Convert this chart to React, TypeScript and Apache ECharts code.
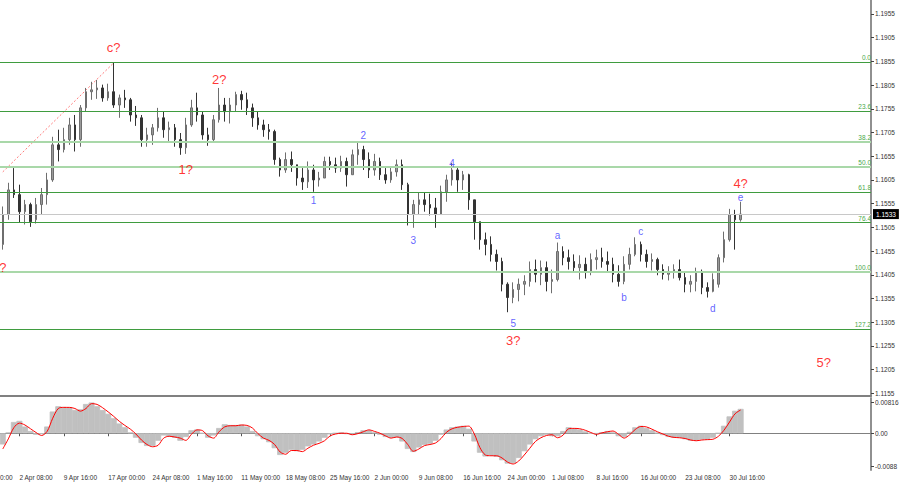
import { useEffect, useRef } from 'react';
import * as echarts from 'echarts';

// H4 bars grouped by 4 (16h per bar)
const opens = [
  1.1469, 1.1532, 1.1584, 1.1574, 1.1538, 1.1553, 1.1521, 1.1553, 1.1574, 1.1605,
  1.1679, 1.1669, 1.1690, 1.1721, 1.1690, 1.1757, 1.1791, 1.1795, 1.1799, 1.1778,
  1.1791, 1.1763, 1.1778, 1.1774, 1.1742, 1.1736, 1.1690, 1.1700, 1.1715, 1.1736,
  1.1711, 1.1715, 1.1690, 1.1673, 1.1721, 1.1757, 1.1742, 1.1700, 1.1690, 1.1732,
  1.1763, 1.1749, 1.1763, 1.1785, 1.1774, 1.1757, 1.1736, 1.1721, 1.1711, 1.1707,
  1.1648, 1.1626, 1.1648, 1.1637, 1.1609, 1.1601, 1.1626, 1.1605, 1.1609, 1.1644,
  1.1637, 1.1630, 1.1644, 1.1616, 1.1658, 1.1669, 1.1648, 1.1626, 1.1644, 1.1616,
  1.1605, 1.1622, 1.1637, 1.1595, 1.1532, 1.1553, 1.1563, 1.1553, 1.1546, 1.1532,
  1.1580, 1.1605, 1.1626, 1.1605, 1.1616, 1.1563, 1.1517, 1.1479, 1.1469, 1.1448,
  1.1433, 1.1385, 1.1357, 1.1374, 1.1385, 1.1391, 1.1416, 1.1406, 1.1420, 1.1391,
  1.1395, 1.1454, 1.1441, 1.1433, 1.1420, 1.1427, 1.1412, 1.1437, 1.1441, 1.1433,
  1.1427, 1.1406, 1.1391, 1.1427, 1.1448, 1.1469, 1.1448, 1.1433, 1.1437, 1.1416,
  1.1406, 1.1412, 1.1416, 1.1399, 1.1385, 1.1391, 1.1412, 1.1378, 1.1370, 1.1385,
  1.1441, 1.1479, 1.1532, 1.1521,
];
const closes = [
  1.1532, 1.1584, 1.1574, 1.1538, 1.1553, 1.1517, 1.1553, 1.1574, 1.1605, 1.1679,
  1.1669, 1.1690, 1.1721, 1.1690, 1.1757, 1.1791, 1.1795, 1.1799, 1.1778, 1.1791,
  1.1763, 1.1778, 1.1774, 1.1742, 1.1736, 1.1690, 1.1700, 1.1715, 1.1736, 1.1711,
  1.1715, 1.1690, 1.1673, 1.1721, 1.1757, 1.1742, 1.1700, 1.1690, 1.1732, 1.1763,
  1.1749, 1.1763, 1.1785, 1.1774, 1.1757, 1.1736, 1.1721, 1.1711, 1.1707, 1.1648,
  1.1626, 1.1648, 1.1637, 1.1609, 1.1601, 1.1626, 1.1605, 1.1609, 1.1644, 1.1637,
  1.1630, 1.1644, 1.1616, 1.1658, 1.1669, 1.1648, 1.1626, 1.1644, 1.1616, 1.1605,
  1.1622, 1.1637, 1.1595, 1.1532, 1.1553, 1.1563, 1.1553, 1.1546, 1.1532, 1.1580,
  1.1605, 1.1626, 1.1605, 1.1616, 1.1563, 1.1517, 1.1479, 1.1469, 1.1448, 1.1433,
  1.1385, 1.1357, 1.1374, 1.1385, 1.1391, 1.1416, 1.1406, 1.1420, 1.1391, 1.1395,
  1.1454, 1.1441, 1.1433, 1.1420, 1.1427, 1.1412, 1.1437, 1.1441, 1.1433, 1.1427,
  1.1406, 1.1391, 1.1427, 1.1448, 1.1469, 1.1448, 1.1433, 1.1437, 1.1416, 1.1406,
  1.1412, 1.1416, 1.1399, 1.1385, 1.1391, 1.1412, 1.1378, 1.1370, 1.1395, 1.1441,
  1.1479, 1.1532, 1.1521, 1.1533,
];
const lows = [
  1.1458, 1.1521, 1.1567, 1.1515, 1.1511, 1.1506, 1.1513, 1.1532, 1.1553, 1.1601,
  1.1644, 1.1663, 1.1679, 1.1665, 1.1675, 1.1749, 1.1774, 1.1776, 1.1770, 1.1772,
  1.1757, 1.1736, 1.1757, 1.1728, 1.1719, 1.1675, 1.1675, 1.1679, 1.1707, 1.1694,
  1.1683, 1.1675, 1.1658, 1.1660, 1.1717, 1.1728, 1.1690, 1.1677, 1.1686, 1.1726,
  1.1728, 1.1724, 1.1749, 1.1753, 1.1742, 1.1717, 1.1711, 1.1696, 1.1690, 1.1637,
  1.1612, 1.1620, 1.1622, 1.1593, 1.1584, 1.1588, 1.1580, 1.1591, 1.1609, 1.1626,
  1.1620, 1.1622, 1.1591, 1.1616, 1.1637, 1.1626, 1.1609, 1.1614, 1.1605, 1.1597,
  1.1599, 1.1612, 1.1584, 1.1509, 1.1504, 1.1532, 1.1538, 1.1530, 1.1504, 1.1532,
  1.1559, 1.1593, 1.1580, 1.1584, 1.1542, 1.1479, 1.1458, 1.1446, 1.1433, 1.1414,
  1.1370, 1.1326, 1.1345, 1.1349, 1.1362, 1.1380, 1.1389, 1.1383, 1.1370, 1.1366,
  1.1391, 1.1425, 1.1416, 1.1410, 1.1395, 1.1397, 1.1404, 1.1416, 1.1420, 1.1410,
  1.1389, 1.1380, 1.1385, 1.1416, 1.1444, 1.1433, 1.1420, 1.1414, 1.1404, 1.1395,
  1.1393, 1.1397, 1.1393, 1.1368, 1.1368, 1.1370, 1.1364, 1.1357, 1.1368, 1.1378,
  1.1431, 1.1475, 1.1458, 1.1517,
];
const highs = [
  1.1549, 1.1599, 1.1630, 1.1595, 1.1563, 1.1557, 1.1567, 1.1588, 1.1620, 1.1696,
  1.1711, 1.1715, 1.1736, 1.1742, 1.1763, 1.1799, 1.1812, 1.1816, 1.1806, 1.1808,
  1.1852, 1.1785, 1.1795, 1.1778, 1.1761, 1.1742, 1.1715, 1.1723, 1.1757, 1.1749,
  1.1728, 1.1723, 1.1704, 1.1736, 1.1774, 1.1789, 1.1749, 1.1715, 1.1742, 1.1799,
  1.1778, 1.1778, 1.1791, 1.1793, 1.1789, 1.1766, 1.1749, 1.1732, 1.1723, 1.1711,
  1.1652, 1.1663, 1.1665, 1.1637, 1.1630, 1.1644, 1.1637, 1.1622, 1.1654, 1.1654,
  1.1652, 1.1656, 1.1652, 1.1669, 1.1686, 1.1677, 1.1663, 1.1660, 1.1652, 1.1630,
  1.1633, 1.1648, 1.1648, 1.1599, 1.1563, 1.1578, 1.1578, 1.1576, 1.1567, 1.1593,
  1.1616, 1.1641, 1.1630, 1.1624, 1.1618, 1.1563, 1.1517, 1.1494, 1.1486, 1.1458,
  1.1441, 1.1389, 1.1389, 1.1397, 1.1404, 1.1433, 1.1437, 1.1435, 1.1433, 1.1416,
  1.1473, 1.1465, 1.1458, 1.1448, 1.1446, 1.1441, 1.1450, 1.1458, 1.1462, 1.1454,
  1.1441, 1.1425, 1.1444, 1.1462, 1.1484, 1.1475, 1.1458, 1.1450, 1.1441, 1.1427,
  1.1423, 1.1427, 1.1437, 1.1410, 1.1404, 1.1420, 1.1416, 1.1389, 1.1408, 1.1448,
  1.1496, 1.1544, 1.1542, 1.1559,
];

// oscillator: histogram and red signal line
const macd = [
  -0.0030, 0.0002, 0.0030, 0.0033, 0.0018, 0.0006, -0.0004, -0.0002, 0.0018, 0.0058,
  0.0072, 0.0070, 0.0069, 0.0062, 0.0064, 0.0078, 0.0082, 0.0072, 0.0062, 0.0052,
  0.0040, 0.0026, 0.0016, 0.0002, -0.0012, -0.0026, -0.0034, -0.0034, -0.0020, -0.0006,
  -0.0009, -0.0012, -0.0020, -0.0010, 0.0008, 0.0010, 0.0000, -0.0012, -0.0006, 0.0014,
  0.0024, 0.0022, 0.0022, 0.0023, 0.0018, 0.0006, -0.0008, -0.0016, -0.0024, -0.0040,
  -0.0058, -0.0052, -0.0044, -0.0048, -0.0044, -0.0035, -0.0030, -0.0022, -0.0012, -0.0003,
  0.0000, 0.0002, -0.0002, -0.0004, 0.0003, 0.0008, 0.0008, 0.0002, -0.0004, -0.0010,
  -0.0012, -0.0011, -0.0022, -0.0042, -0.0050, -0.0038, -0.0031, -0.0028, -0.0020, -0.0004,
  0.0010, 0.0016, 0.0018, 0.0020, 0.0012, -0.0022, -0.0052, -0.0062, -0.0060, -0.0063,
  -0.0072, -0.0081, -0.0080, -0.0066, -0.0048, -0.0030, -0.0016, -0.0008, -0.0004, -0.0008,
  -0.0008, 0.0006, 0.0016, 0.0013, 0.0010, 0.0005, -0.0001, -0.0001, 0.0003, 0.0006,
  0.0002, -0.0008, -0.0010, 0.0004, 0.0016, 0.0020, 0.0014, 0.0008, 0.0001, -0.0005,
  -0.0010, -0.0012, -0.0012, -0.0016, -0.0020, -0.0020, -0.0017, -0.0017, -0.0012, 0.0000,
  0.0020, 0.0045, 0.0060, 0.0065,
];
const signal = [
  -0.0042, -0.0015, 0.0015, 0.0027, 0.0022, 0.0012, 0.0002, -0.0006, 0.0005, 0.0040,
  0.0066, 0.0069, 0.0069, 0.0066, 0.0059, 0.0066, 0.0079, 0.0077, 0.0068, 0.0057,
  0.0045, 0.0032, 0.0021, 0.0011, -0.0002, -0.0018, -0.0030, -0.0036, -0.0032, -0.0013,
  -0.0008, -0.0010, -0.0013, -0.0019, -0.0003, 0.0009, 0.0007, -0.0007, -0.0013, 0.0004,
  0.0017, 0.0020, 0.0020, 0.0022, 0.0021, 0.0014, -0.0001, -0.0013, -0.0019, -0.0030,
  -0.0050, -0.0056, -0.0046, -0.0046, -0.0049, -0.0040, -0.0032, -0.0027, -0.0020, -0.0007,
  -0.0002, 0.0000, 0.0000, -0.0004, -0.0001, 0.0004, 0.0009, 0.0005, 0.0000, -0.0007,
  -0.0013, -0.0010, -0.0014, -0.0030, -0.0048, -0.0042, -0.0033, -0.0030, -0.0026, -0.0014,
  0.0003, 0.0012, 0.0016, 0.0018, 0.0019, -0.0002, -0.0038, -0.0058, -0.0060, -0.0060,
  -0.0066, -0.0077, -0.0082, -0.0074, -0.0058, -0.0040, -0.0022, -0.0012, -0.0006, -0.0004,
  -0.0012, -0.0005, 0.0012, 0.0013, 0.0012, 0.0008, 0.0002, -0.0003, 0.0001, 0.0004,
  0.0006, -0.0003, -0.0013, -0.0004, 0.0010, 0.0018, 0.0017, 0.0011, 0.0004, -0.0002,
  -0.0008, -0.0011, -0.0012, -0.0014, -0.0018, -0.0020, -0.0018, -0.0017, -0.0016, -0.0008,
  0.0008, 0.0030, 0.0052, 0.0062,
];

const barCount = 157;
const dateLabels = [
  '2 Apr 08:00', '9 Apr 16:00', '17 Apr 00:00', '24 Apr 08:00', '1 May 16:00',
  '11 May 00:00', '18 May 08:00', '25 May 16:00', '2 Jun 00:00', '9 Jun 08:00',
  '16 Jun 16:00', '24 Jun 00:00', '1 Jul 08:00', '8 Jul 16:00', '16 Jul 00:00',
  '23 Jul 08:00', '30 Jul 16:00',
];
const dateLabelIndex = [3, 11, 19, 27, 35, 43, 51, 59, 67, 75, 83, 91, 99, 107, 115, 123, 131];
const leftEdgeLabel = '0:00';

const priceTicks = [
  1.1155, 1.1205, 1.1255, 1.1305, 1.1355, 1.1405, 1.1455, 1.1505, 1.1555,
  1.1605, 1.1655, 1.1705, 1.1755, 1.1805, 1.1855, 1.1905, 1.1955,
];
const priceMin = 1.11493;
const priceMax = 1.19845;
const lastPrice = 1.1533;

const oscTicks = [0.00816, 0, -0.0088];
const oscTickLabels = ['0.00816', '0.00', '-0.0088'];
const oscMin = -0.0098;
const oscMax = 0.0094;

const fibNames = ['0.0', '23.6', '38.2', '50.0', '61.8', '76.4', '100.0', '127.2'];
const fibPrices = [1.1854, 1.1750, 1.1685, 1.1633, 1.1580, 1.1515, 1.1411, 1.1291];
const fibLight = ['38.2', '50.0', '100.0'];

const redWaveNames = ['?', 'c?', '1?', '2?', '3?', '4?', '5?'];
const redWaveIndex = [0, 20, 33, 39, 92, 133, 148];
const redWavePrice = [1.1421, 1.1885, 1.1626, 1.1816, 1.1267, 1.1597, 1.1221];

const blueWaveNames = ['1', '2', '3', '4', '5', 'a', 'b', 'c', 'd', 'e'];
const blueWaveIndex = [56, 65, 74, 81, 92, 100, 112, 115, 128, 133];
const blueWavePrice = [1.1561, 1.1698, 1.1478, 1.1639, 1.1303, 1.1487, 1.1358, 1.1497, 1.1333, 1.1569];

const trendIndex = [0, 20];
const trendPrice = [1.1622, 1.1852];

const FONT = '"Liberation Sans", Arial, sans-serif';

export default function App() {
  const chartRef = useRef<HTMLDivElement>(null);

  useEffect(() => {
    document.body.style.margin = '0';
    if (!chartRef.current) return;
    const chart = echarts.init(chartRef.current, null, { renderer: 'svg' });

    const categories = Array.from({ length: barCount }, (_, i) => String(i));
    const candles = opens.map((o, i) => [o, closes[i], lows[i], highs[i]]);
    const showDate = (index: number) => dateLabelIndex.includes(index);

    const fibLines = fibPrices.map((p, i) => {
      const light = fibLight.includes(fibNames[i]);
      return {
        yAxis: p,
        name: fibNames[i],
        lineStyle: { color: light ? '#a9d8a9' : '#3f9c3f', width: light ? 2 : 1.2, type: 'solid' },
        label: {
          show: true,
          position: 'insideEndTop',
          formatter: '{b}',
          color: '#4aa84a',
          fontSize: 6.5,
          fontFamily: FONT,
          distance: [0, 1],
        },
      };
    });

    const option: any = {
      animation: false,
      backgroundColor: '#ffffff',
      grid: [
        { left: 0, top: 0, width: 871, height: 396, outerBoundsMode: 'none' },
        { left: 0, top: 398, width: 871, height: 72, outerBoundsMode: 'none' },
      ],
      xAxis: [
        {
          type: 'category',
          gridIndex: 0,
          data: categories,
          axisLine: { show: true, lineStyle: { color: '#808080', width: 2 } },
          axisTick: { show: false },
          axisLabel: { show: false },
          splitLine: { show: false },
        },
        {
          type: 'category',
          gridIndex: 1,
          data: categories,
          axisLine: { show: true, lineStyle: { color: '#808080', width: 1 } },
          axisTick: {
            show: true,
            alignWithLabel: true,
            interval: (index: number) => showDate(index),
            length: 3,
            lineStyle: { color: '#555' },
          },
          axisLabel: {
            show: true,
            interval: (index: number) => showDate(index),
            formatter: (_v: string, index: number) => dateLabels[dateLabelIndex.indexOf(index)] ?? '',
            align: 'left',
            margin: 4,
            fontSize: 6.5,
            fontFamily: FONT,
            color: '#333',
          },
          splitLine: { show: false },
        },
      ],
      yAxis: [
        {
          type: 'value',
          gridIndex: 0,
          position: 'right',
          min: priceMin,
          max: priceMax,
          axisLine: { show: true, lineStyle: { color: '#909090', width: 2 } },
          axisTick: { show: true, customValues: priceTicks, length: 3, lineStyle: { color: '#444' } },
          axisLabel: {
            show: true,
            customValues: priceTicks,
            formatter: (v: number) => v.toFixed(4),
            margin: 4,
            fontSize: 6.5,
            fontFamily: FONT,
            color: '#333',
          },
          splitLine: { show: false },
        },
        {
          type: 'value',
          gridIndex: 1,
          position: 'right',
          min: oscMin,
          max: oscMax,
          axisLine: { show: true, lineStyle: { color: '#909090', width: 2 } },
          axisTick: { show: true, customValues: oscTicks, length: 3, lineStyle: { color: '#444' } },
          axisLabel: {
            show: true,
            customValues: oscTicks,
            formatter: (v: number) => {
              const i = oscTicks.findIndex((t) => Math.abs(t - v) < 1e-9);
              return i >= 0 ? oscTickLabels[i] : '';
            },
            margin: 4,
            fontSize: 6.5,
            fontFamily: FONT,
            color: '#333',
          },
          splitLine: { show: false },
        },
        {
          type: 'value',
          gridIndex: 0,
          position: 'right',
          min: priceMin,
          max: priceMax,
          axisLine: { show: false },
          axisTick: { show: false },
          axisLabel: {
            show: true,
            customValues: [lastPrice],
            formatter: () => lastPrice.toFixed(4),
            margin: 2,
            fontSize: 6.5,
            fontFamily: FONT,
            color: '#ffffff',
            backgroundColor: '#000000',
            padding: [2, 3, 1, 3],
          },
          splitLine: { show: false },
        },
      ],
      series: [
        {
          type: 'candlestick',
          xAxisIndex: 0,
          yAxisIndex: 0,
          data: candles,
          barWidth: 2,
          itemStyle: {
            color: '#9a9a9a',
            color0: '#333333',
            borderColor: '#6e6e6e',
            borderColor0: '#333333',
            borderWidth: 1,
          },
          markLine: {
            silent: true,
            symbol: ['none', 'none'],
            precision: 5,
            animation: false,
            data: [
              {
                yAxis: lastPrice,
                name: '',
                lineStyle: { color: '#c8c8c8', width: 1, type: 'solid' },
                label: { show: false },
              },
              ...fibLines,
            ],
          },
          z: 3,
        },
        {
          type: 'line',
          xAxisIndex: 0,
          yAxisIndex: 0,
          data: trendIndex.map((x, i) => [x, trendPrice[i]]),
          symbol: 'none',
          lineStyle: { color: '#ff7a7a', width: 1, type: [2, 2] },
          silent: true,
          z: 2,
        },
        {
          type: 'scatter',
          xAxisIndex: 0,
          yAxisIndex: 0,
          data: redWaveNames.map((n, i) => ({ name: n, value: [redWaveIndex[i], redWavePrice[i]] })),
          symbolSize: 1,
          itemStyle: { color: 'rgba(0,0,0,0)' },
          label: {
            show: true,
            position: 'inside',
            formatter: '{b}',
            color: '#ff0000',
            fontSize: 13,
            fontFamily: FONT,
          },
          silent: true,
          z: 5,
        },
        {
          type: 'scatter',
          xAxisIndex: 0,
          yAxisIndex: 0,
          data: blueWaveNames.map((n, i) => ({ name: n, value: [blueWaveIndex[i], blueWavePrice[i]] })),
          symbolSize: 1,
          itemStyle: { color: 'rgba(0,0,0,0)' },
          label: {
            show: true,
            position: 'inside',
            formatter: '{b}',
            color: '#3a3aff',
            fontSize: 10,
            fontFamily: FONT,
          },
          silent: true,
          z: 5,
        },
        {
          type: 'bar',
          xAxisIndex: 1,
          yAxisIndex: 1,
          data: macd,
          barWidth: 6,
          itemStyle: { color: '#c0c0c0', borderColor: '#c0c0c0', borderWidth: 0.8 },
          silent: true,
        },
        {
          type: 'line',
          xAxisIndex: 1,
          yAxisIndex: 1,
          data: signal,
          symbol: 'none',
          smooth: 0.3,
          lineStyle: { color: '#ff0000', width: 1 },
          silent: true,
          z: 3,
        },
      ],
      graphic: [
        {
          type: 'text',
          x: 0,
          y: 474,
          style: {
            text: leftEdgeLabel,
            fontSize: 6.5,
            fontFamily: FONT,
            fill: '#333',
            textVerticalAlign: 'top',
          },
        },
      ],
    };

    chart.setOption(option);

    return () => {
      chart.dispose();
    };
  }, []);

  return <div ref={chartRef} style={{ width: 900, height: 485 }} />;
}
